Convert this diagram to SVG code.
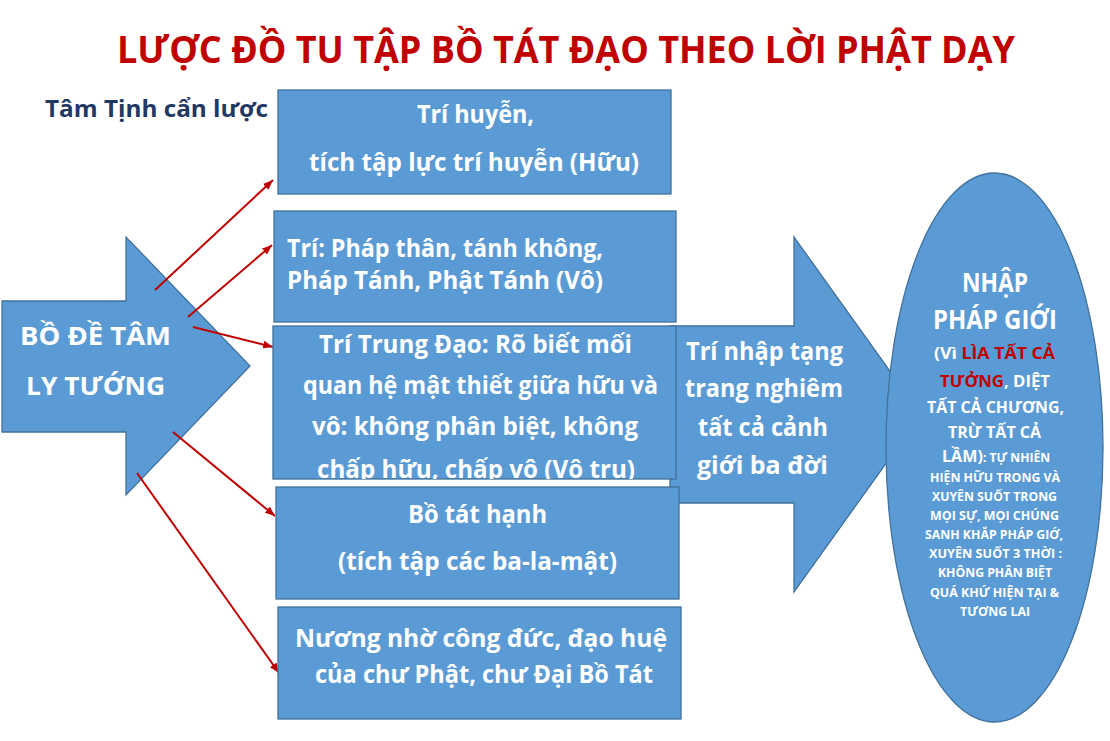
<svg xmlns="http://www.w3.org/2000/svg" width="1110" height="741" viewBox="0 0 1110 741">
<style>
.shape{fill:#5B9BD5;stroke:#41719C;stroke-width:1.3}
.t{font-family:"Open Sans","Noto Sans","DejaVu Sans",sans-serif;font-weight:bold;fill:#FFFFFF}
.b25{font-size:25px}
.e12{font-size:12px}
.e16{font-size:16px}
.e26{font-size:26px}
.red{fill:#C00000}
.conn{stroke:#C00000;stroke-width:2;fill:none;marker-end:url(#ah)}
</style>
<defs>
<marker id="ah" markerUnits="userSpaceOnUse" markerWidth="10" markerHeight="8" refX="10" refY="4" orient="auto">
<path d="M0,0 L10,4 L0,8 z" fill="#C00000"/>
</marker>
<clipPath id="clip3"><rect x="273" y="326" width="403" height="153"/></clipPath>
</defs>
<rect width="1110" height="741" fill="#FFFFFF"/>

<g id="title">
<text x="117" y="63" class="t" style="font-size:38px;fill:#C00000" textLength="898" lengthAdjust="spacingAndGlyphs">LƯỢC ĐỒ TU TẬP BỒ TÁT ĐẠO THEO LỜI PHẬT DẠY</text>
</g>
<g id="subtitle">
<text x="45" y="117" class="t" style="font-size:24px;fill:#1F3864" textLength="223" lengthAdjust="spacingAndGlyphs">Tâm Tịnh cẩn lược</text>
</g>

<g id="node-bodetam">
<path class="shape" d="M2,301 L126,301 L126,237 L250,366 L126,495 L126,432 L2,432 Z"/>
<text x="20" y="345" class="t b25" textLength="151" lengthAdjust="spacingAndGlyphs">BỒ ĐỀ TÂM</text>
<text x="26" y="395" class="t b25" textLength="139" lengthAdjust="spacingAndGlyphs">LY TƯỚNG</text>
</g>

<g id="connectors">
<line class="conn" x1="155" y1="290" x2="273" y2="180"/>
<line class="conn" x1="188" y1="317" x2="272" y2="245"/>
<line class="conn" x1="193" y1="327" x2="273" y2="347"/>
<line class="conn" x1="173" y1="432" x2="275" y2="516"/>
<line class="conn" x1="137" y1="473" x2="279" y2="673"/>
</g>

<g id="node-trinhap">
<path class="shape" d="M670,326 L794,326 L794,237 L921,414.5 L794,592 L794,503 L670,503 Z"/>
<text x="686" y="360" class="t b25" textLength="157" lengthAdjust="spacingAndGlyphs">Trí nhập tạng</text>
<text x="685" y="397" class="t b25" textLength="158" lengthAdjust="spacingAndGlyphs">trang nghiêm</text>
<text x="698" y="436" class="t b25" textLength="130" lengthAdjust="spacingAndGlyphs">tất cả cảnh</text>
<text x="697" y="474" class="t b25" textLength="131" lengthAdjust="spacingAndGlyphs">giới ba đời</text>
</g>

<g id="node-trihuyen">
<rect class="shape" x="278" y="90" width="393" height="104"/>
<text x="417" y="123" class="t b25" textLength="117" lengthAdjust="spacingAndGlyphs">Trí huyễn,</text>
<text x="309" y="171" class="t b25" textLength="330" lengthAdjust="spacingAndGlyphs">tích tập lực trí huyễn (Hữu)</text>
</g>

<g id="node-triphapthan">
<rect class="shape" x="274" y="211" width="402" height="111"/>
<text x="287" y="257" class="t b25" textLength="316" lengthAdjust="spacingAndGlyphs">Trí: Pháp thân, tánh không,</text>
<text x="287" y="289" class="t b25" textLength="316" lengthAdjust="spacingAndGlyphs">Pháp Tánh, Phật Tánh (Vô)</text>
</g>

<g id="node-tritrungdao">
<rect class="shape" x="273" y="326" width="403" height="153"/>
<g clip-path="url(#clip3)">
<text x="319" y="353" class="t b25" textLength="313" lengthAdjust="spacingAndGlyphs">Trí Trung Đạo: Rõ biết mối</text>
<text x="303" y="394" class="t b25" textLength="355" lengthAdjust="spacingAndGlyphs">quan hệ mật thiết giữa hữu và</text>
<text x="312" y="435" class="t b25" textLength="326" lengthAdjust="spacingAndGlyphs">vô: không phân biệt, không</text>
<text x="317" y="478" class="t b25" textLength="318" lengthAdjust="spacingAndGlyphs">chấp hữu, chấp vô (Vô trụ)</text>
</g>
</g>

<g id="node-botathanh">
<rect class="shape" x="276" y="487" width="403" height="112"/>
<text x="408" y="523" class="t b25" textLength="139" lengthAdjust="spacingAndGlyphs">Bồ tát hạnh</text>
<text x="338" y="570" class="t b25" textLength="279" lengthAdjust="spacingAndGlyphs">(tích tập các ba-la-mật)</text>
</g>

<g id="node-nuongnho">
<rect class="shape" x="278" y="607" width="403" height="112"/>
<text x="295" y="647" class="t b25" textLength="372" lengthAdjust="spacingAndGlyphs">Nương nhờ công đức, đạo huệ</text>
<text x="315" y="683" class="t b25" textLength="338" lengthAdjust="spacingAndGlyphs">của chư Phật, chư Đại Bồ Tát</text>
</g>

<g id="node-nhapphapgioi">
<ellipse class="shape" cx="994.5" cy="447.5" rx="108.5" ry="274.5"/>
<text x="962" y="292" class="t e26" textLength="66" lengthAdjust="spacingAndGlyphs">NHẬP</text>
<text x="933" y="329" class="t e26" textLength="124" lengthAdjust="spacingAndGlyphs">PHÁP GIỚI</text>
<text x="934" y="359" class="t e16" textLength="121" lengthAdjust="spacingAndGlyphs">(Vì <tspan class="red">LÌA TẤT CẢ</tspan></text>
<text x="940" y="387" class="t e16" textLength="110" lengthAdjust="spacingAndGlyphs"><tspan class="red">TƯỞNG</tspan>, DIỆT</text>
<text x="927" y="413" class="t e16" textLength="137" lengthAdjust="spacingAndGlyphs">TẤT CẢ CHƯƠNG,</text>
<text x="948" y="438" class="t e16" textLength="93" lengthAdjust="spacingAndGlyphs">TRỪ TẤT CẢ</text>
<text x="942" y="462" class="t e12" textLength="108" lengthAdjust="spacingAndGlyphs"><tspan class="e16">LẦM)</tspan>: TỰ NHIÊN</text>
<text x="930" y="482" class="t e12" textLength="130" lengthAdjust="spacingAndGlyphs">HIỆN HỮU TRONG VÀ</text>
<text x="932" y="501" class="t e12" textLength="125" lengthAdjust="spacingAndGlyphs">XUYÊN SUỐT TRONG</text>
<text x="930" y="520" class="t e12" textLength="129" lengthAdjust="spacingAndGlyphs">MỌI SỰ, MỌI CHÚNG</text>
<text x="925" y="539" class="t e12" textLength="138" lengthAdjust="spacingAndGlyphs">SANH KHẮP PHÁP GIỚ,</text>
<text x="929" y="558" class="t e12" textLength="133" lengthAdjust="spacingAndGlyphs">XUYÊN SUỐT 3 THỜI :</text>
<text x="938" y="577" class="t e12" textLength="114" lengthAdjust="spacingAndGlyphs">KHÔNG PHÂN BIỆT</text>
<text x="930" y="597" class="t e12" textLength="129" lengthAdjust="spacingAndGlyphs">QUÁ KHỨ HIỆN TẠI &amp;</text>
<text x="960" y="616" class="t e12" textLength="70" lengthAdjust="spacingAndGlyphs">TƯƠNG LAI</text>
</g>
</svg>
